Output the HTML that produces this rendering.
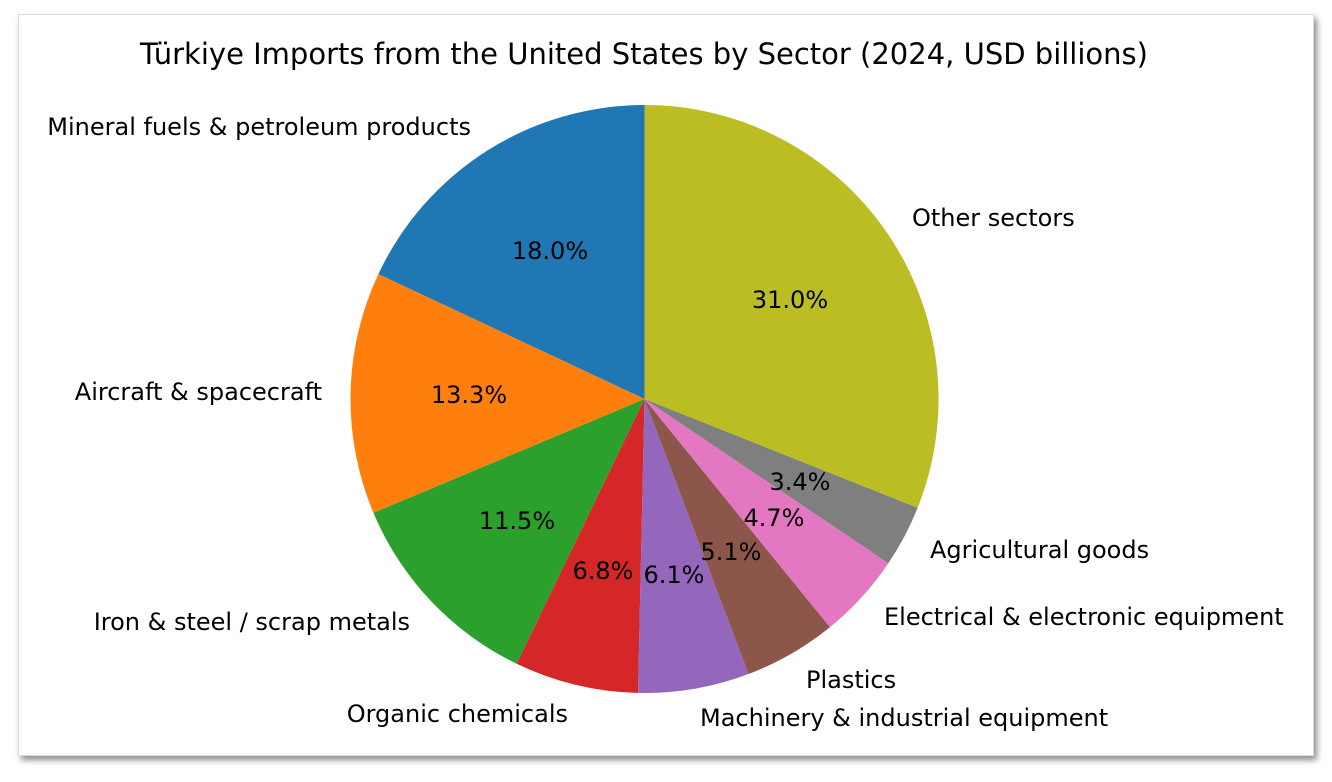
<!DOCTYPE html>
<html><head><meta charset="utf-8"><style>
html,body{margin:0;padding:0;background:#fff;}
#f{position:absolute;left:18px;top:14px;width:1294px;height:740px;background:#fff;box-shadow:3px 4px 6px rgba(0,0,0,0.45);border:1px solid #ddd;}
svg{position:absolute;left:0;top:0;}
text{font-family:"DejaVu Sans","Liberation Sans",sans-serif;fill:#000;}
</style></head><body>
<div id="f"></div>
<svg width="1332" height="782" id="s">
<g id="p"></g>
<text x="644" y="54" font-size="29" text-anchor="middle" dominant-baseline="central">Türkiye Imports from the United States by Sector (2024, USD billions)</text>
<g font-size="24" dominant-baseline="central">
<text x="471" y="127" text-anchor="end">Mineral fuels &amp; petroleum products</text>
<text x="322" y="392" text-anchor="end">Aircraft &amp; spacecraft</text>
<text x="410" y="622" text-anchor="end">Iron &amp; steel / scrap metals</text>
<text x="568" y="714" text-anchor="end">Organic chemicals</text>
<text x="700" y="718">Machinery &amp; industrial equipment</text>
<text x="806" y="680">Plastics</text>
<text x="884" y="617">Electrical &amp; electronic equipment</text>
<text x="930" y="550">Agricultural goods</text>
<text x="912" y="218">Other sectors</text>
</g>
<g font-size="24" dominant-baseline="central" text-anchor="middle">
<text x="550" y="251">18.0%</text>
<text x="469" y="395">13.3%</text>
<text x="517" y="521">11.5%</text>
<text x="603" y="571">6.8%</text>
<text x="674" y="575">6.1%</text>
<text x="731" y="552">5.1%</text>
<text x="774" y="518">4.7%</text>
<text x="800" y="482">3.4%</text>
<text x="790" y="300">31.0%</text>
</g>
</svg>
<script>
var v=[18.0,13.3,11.5,6.8,6.1,5.1,4.7,3.4,31.0],c=["#1f77b4","#ff7f0e","#2ca02c","#d62728","#9467bd","#8c564b","#e377c2","#7f7f7f","#bcbd22"];
var t=v.reduce((a,b)=>a+b),cx=644.5,cy=399,r=294,a=90,g=document.getElementById('p'),h='';
for(var i=0;i<v.length;i++){var b=a+v[i]/t*360;
var x1=cx+r*Math.cos(a*Math.PI/180),y1=cy-r*Math.sin(a*Math.PI/180),x2=cx+r*Math.cos(b*Math.PI/180),y2=cy-r*Math.sin(b*Math.PI/180);
h+='<path d="M'+cx+','+cy+'L'+x1+','+y1+'A'+r+','+r+' 0 '+((b-a)>180?1:0)+' 0 '+x2+','+y2+'Z" fill="'+c[i]+'"/>';a=b;}
g.innerHTML=h;
</script>
</body></html>
